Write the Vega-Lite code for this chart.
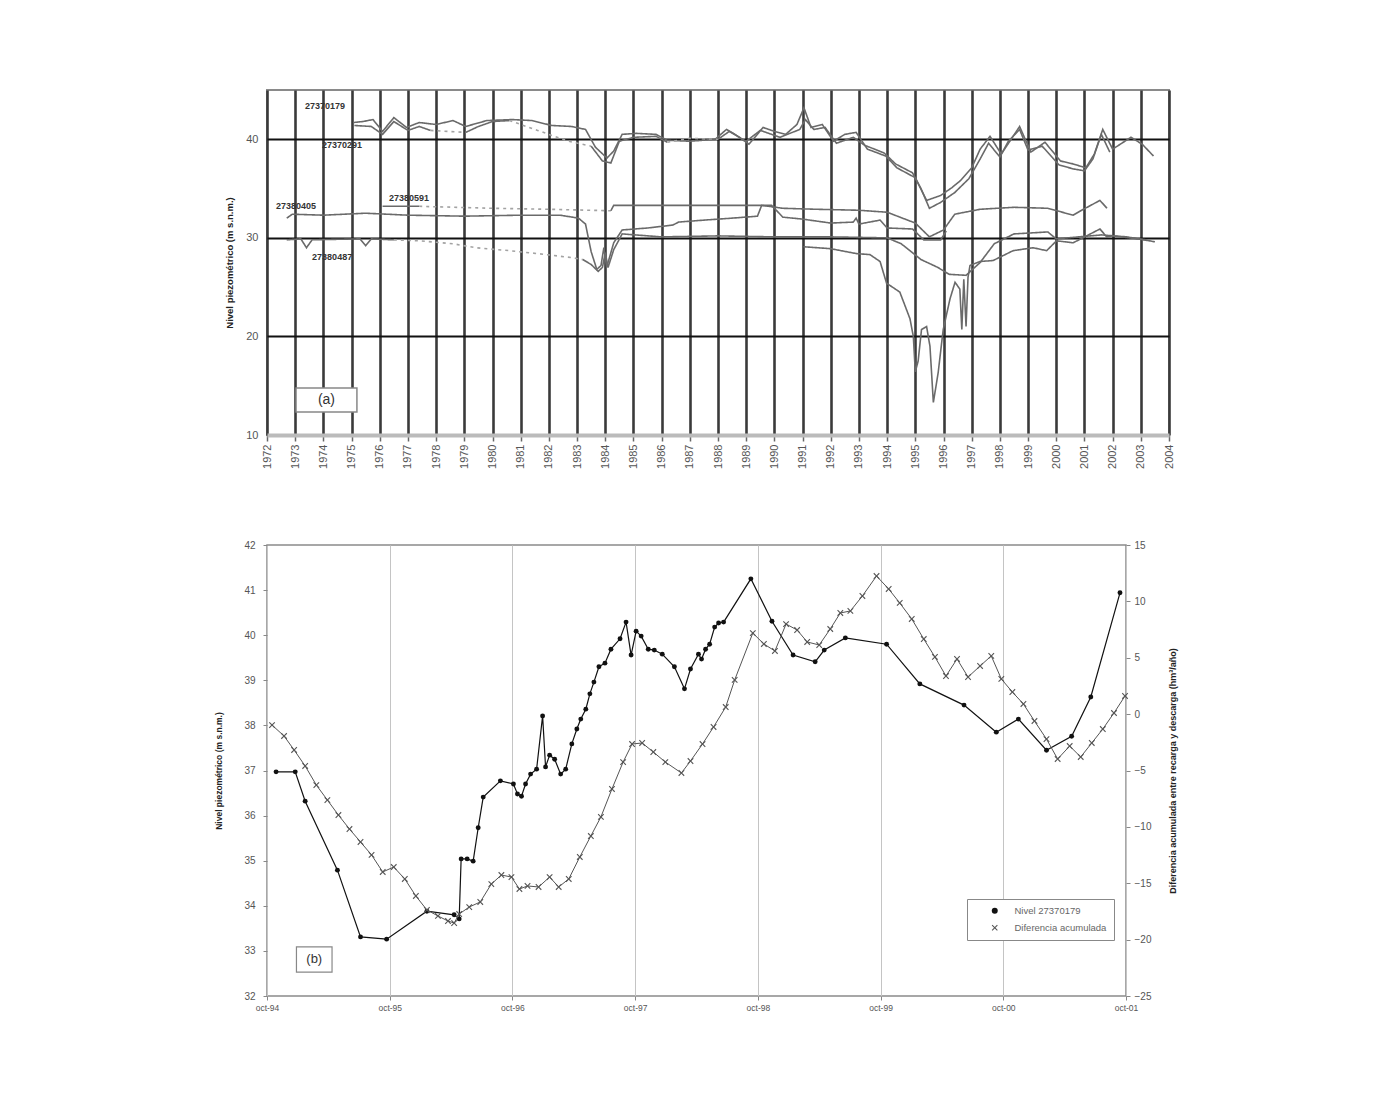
{
"$schema": "https://vega.github.io/schema/vega-lite/v6.json",
"background": "white",
"padding": {"left": 214, "top": 89, "right": 5, "bottom": 5},
"config": {"font": "Liberation Sans", "view": {"stroke": null}, "axis": {"labelFont": "Liberation Sans", "titleFont": "Liberation Sans"}, "legend": {"labelFont": "Liberation Sans"}},
"spacing": 110,
"bounds": "flush",
"resolve": {"scale": {"color": "independent", "shape": "independent", "strokeDash": "independent"}, "legend": {"color": "independent", "shape": "independent"}},
"datasets": {
"top": [
{"s":"A","k":"solid","t":1975.06,"v":41.7},{"s":"A","k":"solid","t":1975.4,"v":41.8},{"s":"A","k":"solid","t":1975.76,"v":42.0},{"s":"A","k":"solid","t":1976.1,"v":40.8},{"s":"A","k":"solid","t":1976.5,"v":42.2},{"s":"A","k":"solid","t":1976.95,"v":41.2},{"s":"A","k":"solid","t":1977.4,"v":41.7},{"s":"A","k":"solid","t":1978.0,"v":41.5},{"s":"A","k":"solid","t":1978.6,"v":41.9},{"s":"A","k":"solid","t":1979.05,"v":41.3},{"s":"A","k":"solid","t":1979.8,"v":41.9},{"s":"A","k":"solid","t":1980.7,"v":42.0},{"s":"A","k":"solid","t":1981.4,"v":41.9},{"s":"A","k":"solid","t":1982.1,"v":41.4},{"s":"A","k":"solid","t":1982.8,"v":41.3},{"s":"A","k":"solid","t":1983.3,"v":41.0},{"s":"A","k":"solid","t":1983.65,"v":39.2},{"s":"A","k":"solid","t":1984.06,"v":38.1},{"s":"A","k":"solid","t":1984.3,"v":38.8},{"s":"A","k":"solid","t":1984.6,"v":40.5},{"s":"A","k":"solid","t":1985.1,"v":40.6},{"s":"A","k":"solid","t":1985.8,"v":40.5},{"s":"A","k":"solid","t":1986.2,"v":39.9},{"s":"A","k":"solid","t":1987.0,"v":39.8},{"s":"A","k":"solid","t":1987.9,"v":40.0},{"s":"A","k":"solid","t":1988.3,"v":41.0},{"s":"A","k":"solid","t":1988.6,"v":40.5},{"s":"A","k":"solid","t":1989.1,"v":39.5},{"s":"A","k":"solid","t":1989.6,"v":41.2},{"s":"A","k":"solid","t":1990.0,"v":40.8},{"s":"A","k":"solid","t":1990.4,"v":40.5},{"s":"A","k":"solid","t":1990.8,"v":41.5},{"s":"A","k":"solid","t":1991.05,"v":43.2},{"s":"A","k":"solid","t":1991.3,"v":41.2},{"s":"A","k":"solid","t":1991.7,"v":41.5},{"s":"A","k":"solid","t":1992.1,"v":39.8},{"s":"A","k":"solid","t":1992.5,"v":40.5},{"s":"A","k":"solid","t":1992.9,"v":40.7},{"s":"A","k":"solid","t":1993.3,"v":39.0},{"s":"A","k":"solid","t":1993.95,"v":38.3},{"s":"A","k":"solid","t":1994.35,"v":37.1},{"s":"A","k":"solid","t":1995.0,"v":36.1},{"s":"A","k":"solid","t":1995.4,"v":33.8},{"s":"A","k":"solid","t":1995.9,"v":34.3},{"s":"A","k":"solid","t":1996.3,"v":35.1},{"s":"A","k":"solid","t":1996.6,"v":35.8},{"s":"A","k":"solid","t":1997.0,"v":37.1},{"s":"A","k":"solid","t":1997.3,"v":39.0},{"s":"A","k":"solid","t":1997.65,"v":40.3},{"s":"A","k":"solid","t":1998.05,"v":38.5},{"s":"A","k":"solid","t":1998.4,"v":40.0},{"s":"A","k":"solid","t":1998.7,"v":41.3},{"s":"A","k":"solid","t":1999.1,"v":38.7},{"s":"A","k":"solid","t":1999.6,"v":39.7},{"s":"A","k":"solid","t":2000.15,"v":37.8},{"s":"A","k":"solid","t":2000.6,"v":37.5},{"s":"A","k":"solid","t":2001.05,"v":37.1},{"s":"A","k":"solid","t":2001.35,"v":38.5},{"s":"A","k":"solid","t":2001.65,"v":41.0},{"s":"A","k":"solid","t":2002.0,"v":39.0},{"s":"A","k":"solid","t":2002.65,"v":40.2},{"s":"A","k":"solid","t":2003.05,"v":39.5},{"s":"A","k":"solid","t":2003.45,"v":38.3},
{"s":"B1","k":"solid","t":1975.1,"v":41.4},{"s":"B1","k":"solid","t":1975.7,"v":41.3},{"s":"B1","k":"solid","t":1976.1,"v":40.5},{"s":"B1","k":"solid","t":1976.5,"v":41.8},{"s":"B1","k":"solid","t":1977.0,"v":40.9},{"s":"B1","k":"solid","t":1977.4,"v":41.3},{"s":"B1","k":"solid","t":1977.8,"v":40.9},
{"s":"B2","k":"dash","t":1977.8,"v":40.9},{"s":"B2","k":"dash","t":1978.4,"v":40.8},{"s":"B2","k":"dash","t":1979.05,"v":40.7},
{"s":"B3","k":"solid","t":1979.05,"v":40.7},{"s":"B3","k":"solid","t":1979.5,"v":41.3},{"s":"B3","k":"solid","t":1980.0,"v":41.8},{"s":"B3","k":"solid","t":1980.6,"v":41.9},
{"s":"B4","k":"dash","t":1980.6,"v":41.9},{"s":"B4","k":"dash","t":1981.6,"v":40.9},{"s":"B4","k":"dash","t":1982.7,"v":39.8},{"s":"B4","k":"dash","t":1983.5,"v":39.3},
{"s":"B5","k":"solid","t":1983.5,"v":39.3},{"s":"B5","k":"solid","t":1983.9,"v":37.8},{"s":"B5","k":"solid","t":1984.2,"v":37.6},{"s":"B5","k":"solid","t":1984.5,"v":39.8},{"s":"B5","k":"solid","t":1985.0,"v":40.2},{"s":"B5","k":"solid","t":1985.8,"v":40.3},{"s":"B5","k":"solid","t":1986.2,"v":39.7},
{"s":"B6","k":"dash","t":1986.2,"v":39.7},{"s":"B6","k":"dash","t":1987.0,"v":40.1},{"s":"B6","k":"dash","t":1988.0,"v":40.0},
{"s":"B7","k":"solid","t":1988.0,"v":40.0},{"s":"B7","k":"solid","t":1988.4,"v":40.8},{"s":"B7","k":"solid","t":1989.0,"v":39.8},{"s":"B7","k":"solid","t":1989.5,"v":40.9},{"s":"B7","k":"solid","t":1990.2,"v":40.2},{"s":"B7","k":"solid","t":1990.9,"v":41.0},{"s":"B7","k":"solid","t":1991.1,"v":42.0},{"s":"B7","k":"solid","t":1991.4,"v":41.0},{"s":"B7","k":"solid","t":1991.8,"v":41.2},{"s":"B7","k":"solid","t":1992.2,"v":39.6},{"s":"B7","k":"solid","t":1992.8,"v":40.2},{"s":"B7","k":"solid","t":1993.2,"v":39.4},{"s":"B7","k":"solid","t":1993.9,"v":38.6},{"s":"B7","k":"solid","t":1994.3,"v":37.5},{"s":"B7","k":"solid","t":1994.9,"v":36.6},{"s":"B7","k":"solid","t":1995.2,"v":35.0},{"s":"B7","k":"solid","t":1995.5,"v":33.0},{"s":"B7","k":"solid","t":1995.9,"v":33.6},{"s":"B7","k":"solid","t":1996.4,"v":34.6},{"s":"B7","k":"solid","t":1996.9,"v":36.0},{"s":"B7","k":"solid","t":1997.3,"v":38.0},{"s":"B7","k":"solid","t":1997.6,"v":39.6},{"s":"B7","k":"solid","t":1998.0,"v":38.2},{"s":"B7","k":"solid","t":1998.3,"v":39.8},{"s":"B7","k":"solid","t":1998.7,"v":41.0},{"s":"B7","k":"solid","t":1999.0,"v":38.9},{"s":"B7","k":"solid","t":1999.5,"v":39.3},{"s":"B7","k":"solid","t":2000.1,"v":37.4},{"s":"B7","k":"solid","t":2000.6,"v":37.0},{"s":"B7","k":"solid","t":2001.0,"v":36.8},{"s":"B7","k":"solid","t":2001.3,"v":38.0},{"s":"B7","k":"solid","t":2001.6,"v":40.5},{"s":"B7","k":"solid","t":2001.9,"v":38.7},
{"s":"C","k":"solid","t":1972.7,"v":32.0},{"s":"C","k":"solid","t":1972.9,"v":32.4},{"s":"C","k":"solid","t":1974.0,"v":32.3},{"s":"C","k":"solid","t":1975.5,"v":32.5},{"s":"C","k":"solid","t":1977.0,"v":32.3},{"s":"C","k":"solid","t":1979.0,"v":32.2},{"s":"C","k":"solid","t":1981.0,"v":32.3},{"s":"C","k":"solid","t":1982.4,"v":32.3},{"s":"C","k":"solid","t":1983.05,"v":32.0},{"s":"C","k":"solid","t":1983.3,"v":31.4},{"s":"C","k":"solid","t":1983.5,"v":28.6},{"s":"C","k":"solid","t":1983.7,"v":26.8},{"s":"C","k":"solid","t":1983.85,"v":27.2},{"s":"C","k":"solid","t":1983.95,"v":29.0},{"s":"C","k":"solid","t":1984.05,"v":27.0},{"s":"C","k":"solid","t":1984.3,"v":29.5},{"s":"C","k":"solid","t":1984.6,"v":30.8},{"s":"C","k":"solid","t":1985.5,"v":31.0},{"s":"C","k":"solid","t":1986.4,"v":31.3},{"s":"C","k":"solid","t":1986.6,"v":31.6},{"s":"C","k":"solid","t":1987.5,"v":31.8},{"s":"C","k":"solid","t":1988.5,"v":32.0},{"s":"C","k":"solid","t":1989.4,"v":32.2},{"s":"C","k":"solid","t":1989.55,"v":33.3},{"s":"C","k":"solid","t":1990.3,"v":33.0},{"s":"C","k":"solid","t":1991.5,"v":32.9},{"s":"C","k":"solid","t":1993.0,"v":32.8},{"s":"C","k":"solid","t":1994.0,"v":32.6},{"s":"C","k":"solid","t":1995.0,"v":31.5},{"s":"C","k":"solid","t":1995.5,"v":30.1},{"s":"C","k":"solid","t":1996.0,"v":30.8},{"s":"C","k":"solid","t":1996.4,"v":32.4},{"s":"C","k":"solid","t":1997.3,"v":32.9},{"s":"C","k":"solid","t":1998.5,"v":33.1},{"s":"C","k":"solid","t":1999.7,"v":33.0},{"s":"C","k":"solid","t":2000.6,"v":32.3},{"s":"C","k":"solid","t":2000.9,"v":32.8},{"s":"C","k":"solid","t":2001.55,"v":33.8},{"s":"C","k":"solid","t":2001.8,"v":33.0},
{"s":"D1","k":"solid","t":1976.1,"v":33.2},{"s":"D1","k":"solid","t":1977.4,"v":33.2},
{"s":"D2","k":"dash","t":1977.4,"v":33.2},{"s":"D2","k":"dash","t":1980.0,"v":33.0},{"s":"D2","k":"dash","t":1982.0,"v":32.9},{"s":"D2","k":"dash","t":1984.2,"v":32.75},
{"s":"D3","k":"solid","t":1984.2,"v":32.75},{"s":"D3","k":"solid","t":1984.3,"v":33.3},{"s":"D3","k":"solid","t":1986.0,"v":33.3},{"s":"D3","k":"solid","t":1988.0,"v":33.3},{"s":"D3","k":"solid","t":1989.9,"v":33.3},{"s":"D3","k":"solid","t":1990.3,"v":32.1},{"s":"D3","k":"solid","t":1991.0,"v":31.9},{"s":"D3","k":"solid","t":1992.0,"v":31.5},{"s":"D3","k":"solid","t":1992.8,"v":31.6},{"s":"D3","k":"solid","t":1992.9,"v":32.0},{"s":"D3","k":"solid","t":1993.0,"v":31.4},{"s":"D3","k":"solid","t":1993.75,"v":31.8},{"s":"D3","k":"solid","t":1994.0,"v":31.0},{"s":"D3","k":"solid","t":1994.9,"v":30.9},{"s":"D3","k":"solid","t":1995.3,"v":29.8},{"s":"D3","k":"solid","t":1995.9,"v":29.8},{"s":"D3","k":"solid","t":1996.1,"v":30.7},
{"s":"E1","k":"solid","t":1972.7,"v":29.8},{"s":"E1","k":"solid","t":1973.2,"v":29.9},{"s":"E1","k":"solid","t":1973.4,"v":29.0},{"s":"E1","k":"solid","t":1973.6,"v":29.8},{"s":"E1","k":"solid","t":1975.3,"v":29.9},{"s":"E1","k":"solid","t":1975.5,"v":29.2},{"s":"E1","k":"solid","t":1975.7,"v":29.9},{"s":"E1","k":"solid","t":1976.5,"v":29.8},
{"s":"E2","k":"dash","t":1976.5,"v":29.8},{"s":"E2","k":"dash","t":1977.4,"v":29.7},{"s":"E2","k":"dash","t":1978.6,"v":29.4},{"s":"E2","k":"dash","t":1979.4,"v":29.0},{"s":"E2","k":"dash","t":1980.6,"v":28.7},{"s":"E2","k":"dash","t":1981.6,"v":28.4},{"s":"E2","k":"dash","t":1982.8,"v":28.0},{"s":"E2","k":"dash","t":1983.2,"v":27.8},
{"s":"E3","k":"solid","t":1983.2,"v":27.8},{"s":"E3","k":"solid","t":1983.5,"v":27.3},{"s":"E3","k":"solid","t":1983.75,"v":26.6},{"s":"E3","k":"solid","t":1983.9,"v":27.0},{"s":"E3","k":"solid","t":1984.0,"v":28.5},{"s":"E3","k":"solid","t":1984.1,"v":27.0},{"s":"E3","k":"solid","t":1984.3,"v":28.8},{"s":"E3","k":"solid","t":1984.6,"v":30.4},{"s":"E3","k":"solid","t":1986.0,"v":30.1},{"s":"E3","k":"solid","t":1988.0,"v":30.2},{"s":"E3","k":"solid","t":1990.0,"v":30.1},{"s":"E3","k":"solid","t":1992.0,"v":30.1},{"s":"E3","k":"solid","t":1994.0,"v":30.0},{"s":"E3","k":"solid","t":1994.5,"v":29.4},{"s":"E3","k":"solid","t":1995.2,"v":27.8},{"s":"E3","k":"solid","t":1995.8,"v":27.0},{"s":"E3","k":"solid","t":1996.2,"v":26.3},{"s":"E3","k":"solid","t":1996.8,"v":26.2},{"s":"E3","k":"solid","t":1997.3,"v":27.5},{"s":"E3","k":"solid","t":1997.8,"v":29.4},{"s":"E3","k":"solid","t":1998.5,"v":30.4},{"s":"E3","k":"solid","t":1999.7,"v":30.6},{"s":"E3","k":"solid","t":2000.0,"v":29.9},{"s":"E3","k":"solid","t":2000.8,"v":30.1},{"s":"E3","k":"solid","t":2001.6,"v":30.3},{"s":"E3","k":"solid","t":2002.5,"v":30.1},{"s":"E3","k":"solid","t":2003.5,"v":29.6},
{"s":"F","k":"solid","t":1991.03,"v":29.1},{"s":"F","k":"solid","t":1992.0,"v":28.9},{"s":"F","k":"solid","t":1992.92,"v":28.4},{"s":"F","k":"solid","t":1993.39,"v":28.3},{"s":"F","k":"solid","t":1993.75,"v":27.6},{"s":"F","k":"solid","t":1993.98,"v":25.4},{"s":"F","k":"solid","t":1994.45,"v":24.5},{"s":"F","k":"solid","t":1994.81,"v":21.8},{"s":"F","k":"solid","t":1994.93,"v":20.0},{"s":"F","k":"solid","t":1995.0,"v":16.4},{"s":"F","k":"solid","t":1995.1,"v":17.5},{"s":"F","k":"solid","t":1995.22,"v":20.7},{"s":"F","k":"solid","t":1995.4,"v":21.0},{"s":"F","k":"solid","t":1995.52,"v":19.0},{"s":"F","k":"solid","t":1995.64,"v":13.3},{"s":"F","k":"solid","t":1995.81,"v":16.3},{"s":"F","k":"solid","t":1995.99,"v":20.7},{"s":"F","k":"solid","t":1996.23,"v":23.8},{"s":"F","k":"solid","t":1996.41,"v":25.5},{"s":"F","k":"solid","t":1996.58,"v":24.8},{"s":"F","k":"solid","t":1996.65,"v":20.7},{"s":"F","k":"solid","t":1996.72,"v":25.8},{"s":"F","k":"solid","t":1996.8,"v":21.0},{"s":"F","k":"solid","t":1996.87,"v":26.0},{"s":"F","k":"solid","t":1996.94,"v":27.2},{"s":"F","k":"solid","t":1997.29,"v":27.6},{"s":"F","k":"solid","t":1997.76,"v":27.7},{"s":"F","k":"solid","t":1998.47,"v":28.7},{"s":"F","k":"solid","t":1999.18,"v":29.0},{"s":"F","k":"solid","t":1999.66,"v":28.7},{"s":"F","k":"solid","t":2000.01,"v":29.7},{"s":"F","k":"solid","t":2000.6,"v":29.5},{"s":"F","k":"solid","t":2001.55,"v":30.9},{"s":"F","k":"solid","t":2001.79,"v":30.1},{"s":"F","k":"solid","t":2002.0,"v":30.2},{"s":"F","k":"solid","t":2003.2,"v":29.8}
],
"etiquetas": [
{"t":1973.35,"v":43.35,"label":"27370179"},
{"t":1973.95,"v":39.4,"label":"27370291"},
{"t":1972.32,"v":33.25,"label":"27380405"},
{"t":1976.33,"v":34.05,"label":"27380591"},
{"t":1973.6,"v":28.1,"label":"27380487"}
],
"cajaA": [{"t":1973.03,"t2":1975.19,"v":12.33,"v2":14.77,"tc":1974.11,"vc":13.55,"label":"(a)"}],
"cajaB": [{"t":1994.99,"t2":1995.28,"v":32.53,"v2":33.09,"tc":1995.135,"vc":32.81,"label":"(b)"}],
"nivel": [
{"serie":"Nivel 27370179","t":1994.824,"v":36.97},{"serie":"Nivel 27370179","t":1994.98,"v":36.97},{"serie":"Nivel 27370179","t":1995.061,"v":36.32},{"serie":"Nivel 27370179","t":1995.324,"v":34.79},{"serie":"Nivel 27370179","t":1995.512,"v":33.31},{"serie":"Nivel 27370179","t":1995.725,"v":33.26},{"serie":"Nivel 27370179","t":1996.053,"v":33.88},{"serie":"Nivel 27370179","t":1996.275,"v":33.8},{"serie":"Nivel 27370179","t":1996.316,"v":33.71},{"serie":"Nivel 27370179","t":1996.332,"v":35.04},{"serie":"Nivel 27370179","t":1996.381,"v":35.04},{"serie":"Nivel 27370179","t":1996.43,"v":34.99},{"serie":"Nivel 27370179","t":1996.471,"v":35.73},{"serie":"Nivel 27370179","t":1996.512,"v":36.41},{"serie":"Nivel 27370179","t":1996.652,"v":36.77},{"serie":"Nivel 27370179","t":1996.758,"v":36.7},{"serie":"Nivel 27370179","t":1996.791,"v":36.48},{"serie":"Nivel 27370179","t":1996.824,"v":36.43},{"serie":"Nivel 27370179","t":1996.857,"v":36.7},{"serie":"Nivel 27370179","t":1996.898,"v":36.92},{"serie":"Nivel 27370179","t":1996.947,"v":37.03},{"serie":"Nivel 27370179","t":1996.996,"v":38.21},{"serie":"Nivel 27370179","t":1997.02,"v":37.08},{"serie":"Nivel 27370179","t":1997.053,"v":37.34},{"serie":"Nivel 27370179","t":1997.094,"v":37.25},{"serie":"Nivel 27370179","t":1997.143,"v":36.92},{"serie":"Nivel 27370179","t":1997.184,"v":37.03},{"serie":"Nivel 27370179","t":1997.234,"v":37.59},{"serie":"Nivel 27370179","t":1997.275,"v":37.92},{"serie":"Nivel 27370179","t":1997.307,"v":38.14},{"serie":"Nivel 27370179","t":1997.348,"v":38.36},{"serie":"Nivel 27370179","t":1997.381,"v":38.7},{"serie":"Nivel 27370179","t":1997.414,"v":38.96},{"serie":"Nivel 27370179","t":1997.455,"v":39.3},{"serie":"Nivel 27370179","t":1997.504,"v":39.38},{"serie":"Nivel 27370179","t":1997.553,"v":39.69},{"serie":"Nivel 27370179","t":1997.627,"v":39.92},{"serie":"Nivel 27370179","t":1997.676,"v":40.29},{"serie":"Nivel 27370179","t":1997.717,"v":39.56},{"serie":"Nivel 27370179","t":1997.758,"v":40.09},{"serie":"Nivel 27370179","t":1997.799,"v":39.98},{"serie":"Nivel 27370179","t":1997.857,"v":39.69},{"serie":"Nivel 27370179","t":1997.906,"v":39.67},{"serie":"Nivel 27370179","t":1997.971,"v":39.58},{"serie":"Nivel 27370179","t":1998.07,"v":39.3},{"serie":"Nivel 27370179","t":1998.152,"v":38.81},{"serie":"Nivel 27370179","t":1998.201,"v":39.25},{"serie":"Nivel 27370179","t":1998.266,"v":39.58},{"serie":"Nivel 27370179","t":1998.291,"v":39.47},{"serie":"Nivel 27370179","t":1998.324,"v":39.69},{"serie":"Nivel 27370179","t":1998.357,"v":39.8},{"serie":"Nivel 27370179","t":1998.398,"v":40.18},{"serie":"Nivel 27370179","t":1998.43,"v":40.27},{"serie":"Nivel 27370179","t":1998.471,"v":40.29},{"serie":"Nivel 27370179","t":1998.693,"v":41.25},{"serie":"Nivel 27370179","t":1998.865,"v":40.31},{"serie":"Nivel 27370179","t":1999.037,"v":39.56},{"serie":"Nivel 27370179","t":1999.217,"v":39.41},{"serie":"Nivel 27370179","t":1999.291,"v":39.67},{"serie":"Nivel 27370179","t":1999.463,"v":39.94},{"serie":"Nivel 27370179","t":1999.799,"v":39.8},{"serie":"Nivel 27370179","t":2000.07,"v":38.92},{"serie":"Nivel 27370179","t":2000.43,"v":38.45},{"serie":"Nivel 27370179","t":2000.693,"v":37.85},{"serie":"Nivel 27370179","t":2000.873,"v":38.14},{"serie":"Nivel 27370179","t":2001.102,"v":37.45},{"serie":"Nivel 27370179","t":2001.307,"v":37.76},{"serie":"Nivel 27370179","t":2001.463,"v":38.63},{"serie":"Nivel 27370179","t":2001.701,"v":40.94}
],
"dif": [
{"serie":"Diferencia acumulada","t":1994.791,"d":-0.97},{"serie":"Diferencia acumulada","t":1994.889,"d":-1.94},{"serie":"Diferencia acumulada","t":1994.971,"d":-3.18},{"serie":"Diferencia acumulada","t":1995.061,"d":-4.6},{"serie":"Diferencia acumulada","t":1995.152,"d":-6.29},{"serie":"Diferencia acumulada","t":1995.242,"d":-7.62},{"serie":"Diferencia acumulada","t":1995.332,"d":-8.95},{"serie":"Diferencia acumulada","t":1995.422,"d":-10.19},{"serie":"Diferencia acumulada","t":1995.512,"d":-11.34},{"serie":"Diferencia acumulada","t":1995.602,"d":-12.49},{"serie":"Diferencia acumulada","t":1995.693,"d":-14.0},{"serie":"Diferencia acumulada","t":1995.783,"d":-13.56},{"serie":"Diferencia acumulada","t":1995.873,"d":-14.62},{"serie":"Diferencia acumulada","t":1995.963,"d":-16.13},
{"serie":"Diferencia acumulada","t":1996.053,"d":-17.37},{"serie":"Diferencia acumulada","t":1996.143,"d":-17.9},{"serie":"Diferencia acumulada","t":1996.225,"d":-18.35},{"serie":"Diferencia acumulada","t":1996.275,"d":-18.53},{"serie":"Diferencia acumulada","t":1996.316,"d":-17.73},{"serie":"Diferencia acumulada","t":1996.398,"d":-17.11},{"serie":"Diferencia acumulada","t":1996.488,"d":-16.66},{"serie":"Diferencia acumulada","t":1996.578,"d":-15.07},{"serie":"Diferencia acumulada","t":1996.66,"d":-14.27},{"serie":"Diferencia acumulada","t":1996.742,"d":-14.45},{"serie":"Diferencia acumulada","t":1996.807,"d":-15.51},{"serie":"Diferencia acumulada","t":1996.873,"d":-15.24},{"serie":"Diferencia acumulada","t":1996.963,"d":-15.33},
{"serie":"Diferencia acumulada","t":1997.053,"d":-14.45},{"serie":"Diferencia acumulada","t":1997.127,"d":-15.33},{"serie":"Diferencia acumulada","t":1997.209,"d":-14.62},{"serie":"Diferencia acumulada","t":1997.299,"d":-12.67},{"serie":"Diferencia acumulada","t":1997.389,"d":-10.81},{"serie":"Diferencia acumulada","t":1997.471,"d":-9.12},{"serie":"Diferencia acumulada","t":1997.561,"d":-6.64},{"serie":"Diferencia acumulada","t":1997.652,"d":-4.25},{"serie":"Diferencia acumulada","t":1997.725,"d":-2.65},{"serie":"Diferencia acumulada","t":1997.807,"d":-2.56},{"serie":"Diferencia acumulada","t":1997.898,"d":-3.36},{"serie":"Diferencia acumulada","t":1997.996,"d":-4.25},
{"serie":"Diferencia acumulada","t":1998.127,"d":-5.22},{"serie":"Diferencia acumulada","t":1998.201,"d":-4.16},{"serie":"Diferencia acumulada","t":1998.299,"d":-2.65},{"serie":"Diferencia acumulada","t":1998.389,"d":-1.14},{"serie":"Diferencia acumulada","t":1998.488,"d":0.63},{"serie":"Diferencia acumulada","t":1998.561,"d":3.03},{"serie":"Diferencia acumulada","t":1998.709,"d":7.19},{"serie":"Diferencia acumulada","t":1998.799,"d":6.22},{"serie":"Diferencia acumulada","t":1998.889,"d":5.6},{"serie":"Diferencia acumulada","t":1998.98,"d":7.99},
{"serie":"Diferencia acumulada","t":1999.07,"d":7.46},{"serie":"Diferencia acumulada","t":1999.152,"d":6.4},{"serie":"Diferencia acumulada","t":1999.25,"d":6.13},{"serie":"Diferencia acumulada","t":1999.34,"d":7.55},{"serie":"Diferencia acumulada","t":1999.422,"d":8.97},{"serie":"Diferencia acumulada","t":1999.504,"d":9.15},{"serie":"Diferencia acumulada","t":1999.602,"d":10.48},{"serie":"Diferencia acumulada","t":1999.717,"d":12.25},{"serie":"Diferencia acumulada","t":1999.816,"d":11.1},{"serie":"Diferencia acumulada","t":1999.906,"d":9.86},
{"serie":"Diferencia acumulada","t":2000.004,"d":8.44},{"serie":"Diferencia acumulada","t":2000.102,"d":6.66},{"serie":"Diferencia acumulada","t":2000.193,"d":5.07},{"serie":"Diferencia acumulada","t":2000.283,"d":3.38},{"serie":"Diferencia acumulada","t":2000.373,"d":4.89},{"serie":"Diferencia acumulada","t":2000.463,"d":3.29},{"serie":"Diferencia acumulada","t":2000.561,"d":4.27},{"serie":"Diferencia acumulada","t":2000.652,"d":5.16},{"serie":"Diferencia acumulada","t":2000.734,"d":3.12},{"serie":"Diferencia acumulada","t":2000.824,"d":1.96},{"serie":"Diferencia acumulada","t":2000.914,"d":0.9},
{"serie":"Diferencia acumulada","t":2001.004,"d":-0.61},{"serie":"Diferencia acumulada","t":2001.102,"d":-2.21},{"serie":"Diferencia acumulada","t":2001.193,"d":-3.98},{"serie":"Diferencia acumulada","t":2001.291,"d":-2.83},{"serie":"Diferencia acumulada","t":2001.381,"d":-3.8},{"serie":"Diferencia acumulada","t":2001.471,"d":-2.56},{"serie":"Diferencia acumulada","t":2001.561,"d":-1.32},{"serie":"Diferencia acumulada","t":2001.652,"d":0.1},{"serie":"Diferencia acumulada","t":2001.742,"d":1.61}
]
},
"vconcat": [
{
"width": 902,
"height": 345,
"view": {"stroke": "#8a8a8a", "strokeWidth": 2},
"encoding": {
"x": {"field": "t", "type": "quantitative", "scale": {"domain": [1972, 2004], "nice": false, "zero": false},
"axis": {"values": [1972,1973,1974,1975,1976,1977,1978,1979,1980,1981,1982,1983,1984,1985,1986,1987,1988,1989,1990,1991,1992,1993,1994,1995,1996,1997,1998,1999,2000,2001,2002,2003,2004], "format": "d", "labelAngle": 270, "labelFontSize": 11, "labelColor": "#555", "labelPadding": 3, "labelOverlap": false, "labelFlush": false, "tickSize": 6, "tickColor": "#666", "tickWidth": 1.5, "domainColor": "#bbb", "domainWidth": 4, "grid": true, "gridColor": "#3a3a3a", "gridWidth": 2.6, "title": null}},
"y": {"field": "v", "type": "quantitative", "scale": {"domain": [10, 45], "nice": false, "zero": false},
"axis": {"values": [10, 20, 30, 40], "grid": true, "gridColor": "#111", "gridWidth": 2, "domain": false, "ticks": false, "labelPadding": 9, "labelFontSize": 11, "labelColor": "#555", "title": "Nivel piezométrico (m s.n.m.)", "titleFontSize": 9.5, "titleFontWeight": "bold", "titleColor": "#222", "titlePadding": 11}}
},
"layer": [
{"data": {"name": "top"}, "mark": {"type": "line", "strokeWidth": 1.6},
"encoding": {
"detail": {"field": "s"},
"color": {"field": "k", "type": "nominal", "scale": {"domain": ["solid", "dash"], "range": ["#6a6a6a", "#a3a3a3"]}, "legend": null},
"strokeDash": {"field": "k", "type": "nominal", "scale": {"domain": ["solid", "dash"], "range": [[1, 0], [3, 4]]}, "legend": null}
}},
{"data": {"name": "etiquetas"}, "mark": {"type": "text", "align": "left", "baseline": "middle", "fontSize": 9, "fontWeight": "bold", "color": "#333"},
"encoding": {"text": {"field": "label"}}},
{"data": {"name": "cajaA"}, "mark": {"type": "rect", "fill": "white", "stroke": "#888", "strokeWidth": 1.5},
"encoding": {"x2": {"field": "t2"}, "y2": {"field": "v2"}}},
{"data": {"name": "cajaA"}, "mark": {"type": "text", "fontSize": 14, "color": "#333", "baseline": "middle"},
"encoding": {"x": {"field": "tc", "type": "quantitative"}, "y": {"field": "vc", "type": "quantitative"}, "text": {"field": "label"}}}
]
},
{
"width": 859,
"height": 451,
"view": {"stroke": "#8a8a8a", "strokeWidth": 1.5},
"layer": [
{
"encoding": {
"x": {"field": "t", "type": "quantitative", "scale": {"domain": [1994.75, 2001.75], "nice": false, "zero": false},
"axis": {"values": [1994.75, 1995.75, 1996.75, 1997.75, 1998.75, 1999.75, 2000.75, 2001.75], "labelExpr": "'oct-' + (floor(datum.value) % 100 < 10 ? '0' : '') + (floor(datum.value) % 100)", "labelFontSize": 8.5, "labelColor": "#555", "labelFlush": false, "grid": true, "gridColor": "#c4c4c4", "gridWidth": 1, "tickSize": 4, "tickColor": "#888", "domain": false, "title": null, "labelPadding": 3}},
"y": {"field": "v", "type": "quantitative", "scale": {"domain": [32, 42], "nice": false, "zero": false},
"axis": {"orient": "left", "values": [32,33,34,35,36,37,38,39,40,41,42], "grid": false, "domain": false, "tickSize": 4, "tickColor": "#888", "labelFontSize": 10, "labelColor": "#555", "labelPadding": 8, "title": "Nivel piezométrico (m s.n.m.)", "titleFontSize": 8.5, "titleFontWeight": "bold", "titleColor": "#222", "titlePadding": 20}}
},
"layer": [
{"data": {"name": "cajaB"}, "mark": {"type": "rect", "fill": "white", "stroke": "#888", "strokeWidth": 1.2},
"encoding": {"x2": {"field": "t2"}, "y2": {"field": "v2"}}},
{"data": {"name": "cajaB"}, "mark": {"type": "text", "fontSize": 13, "color": "#333", "baseline": "middle"},
"encoding": {"x": {"field": "tc", "type": "quantitative"}, "y": {"field": "vc", "type": "quantitative"}, "text": {"field": "label"}}},
{"data": {"name": "nivel"}, "mark": {"type": "line", "color": "#111", "strokeWidth": 1.2}, "encoding": {}},
{"data": {"name": "nivel"}, "mark": {"type": "point", "filled": true, "size": 24, "opacity": 1},
"encoding": {
"color": {"field": "serie", "type": "nominal", "scale": {"domain": ["Nivel 27370179", "Diferencia acumulada"], "range": ["#111111", "#555555"]},
"legend": {"orient": "none", "legendX": 700, "legendY": 354, "title": null, "strokeColor": "#888", "fillColor": "white", "padding": 7, "labelFontSize": 9.5, "labelColor": "#666", "symbolSize": 36, "symbolOffset": 16, "rowPadding": 6, "labelOffset": 15}},
"shape": {"field": "serie", "type": "nominal", "scale": {"domain": ["Nivel 27370179", "Diferencia acumulada"], "range": ["circle", "M-1,-0.75L-0.75,-1L0,-0.25L0.75,-1L1,-0.75L0.25,0L1,0.75L0.75,1L0,0.25L-0.75,1L-1,0.75L-0.25,0Z"]}, "legend": {"orient": "none", "legendX": 700, "legendY": 354, "title": null}}
}}
]
},
{
"encoding": {
"x": {"field": "t", "type": "quantitative"},
"y": {"field": "d", "type": "quantitative", "scale": {"domain": [-25, 15], "nice": false, "zero": false},
"axis": {"orient": "right", "values": [-25,-20,-15,-10,-5,0,5,10,15], "grid": false, "domain": false, "tickSize": 4, "tickColor": "#888", "labelFontSize": 10, "labelColor": "#555", "labelPadding": 4, "title": "Diferencia acumulada entre recarga y descarga (hm³/año)", "titleAngle": 270, "titleFontSize": 9, "titleFontWeight": "bold", "titleColor": "#222", "titlePadding": 27}}
},
"layer": [
{"data": {"name": "dif"}, "mark": {"type": "line", "color": "#555", "strokeWidth": 1}, "encoding": {}},
{"data": {"name": "dif"}, "mark": {"type": "point", "filled": true, "size": 40, "opacity": 1},
"encoding": {
"color": {"field": "serie", "type": "nominal"},
"shape": {"field": "serie", "type": "nominal"}
}}
]
}
],
"resolve": {"scale": {"y": "independent"}}
}
]
}
